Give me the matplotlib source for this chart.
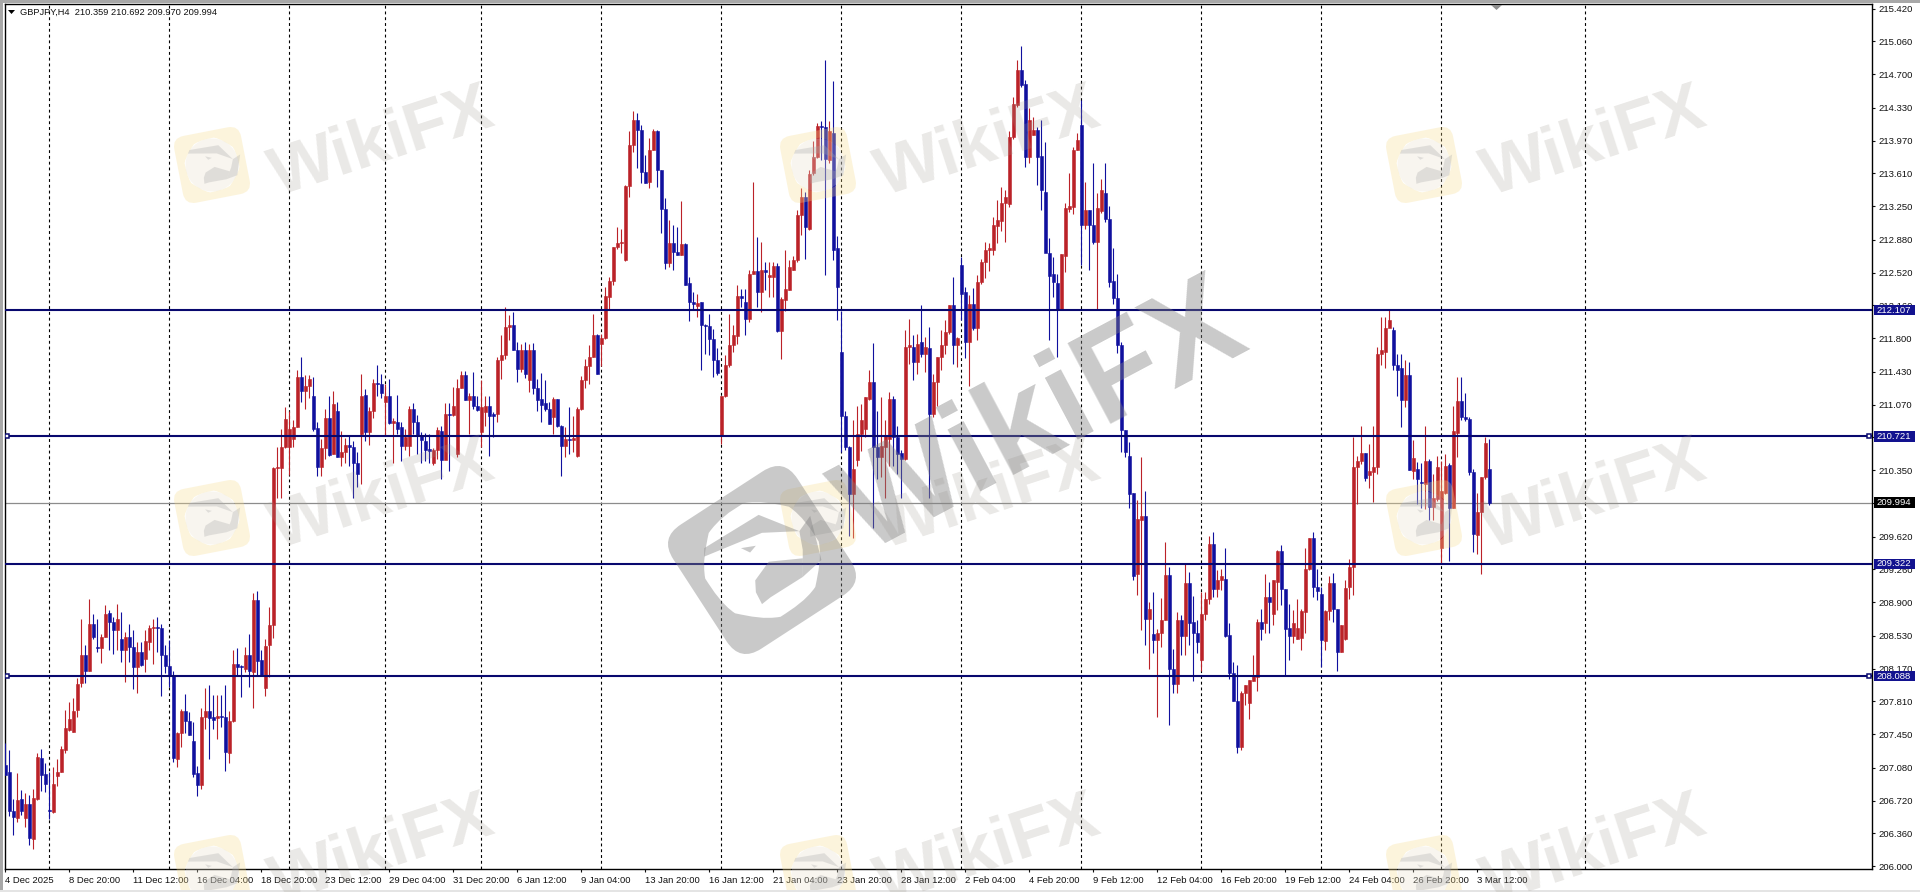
import matplotlib

matplotlib.use("Agg")
import matplotlib.pyplot as plt
import numpy as np
from matplotlib.patches import FancyBboxPatch, PathPatch, Polygon, Rectangle
from matplotlib.path import Path
from matplotlib.transforms import Affine2D

plt.rcParams["font.family"] = ["Liberation Sans", "DejaVu Sans"]

SYMBOL = "GBPJPY,H4  210.359 210.692 209.970 209.994"

opens = [
    207.11, 207.04, 206.61, 206.53, 206.74, 206.53, 206.68, 206.30, 206.74, 207.19,
    207.01, 206.62, 206.60, 206.99, 207.04, 207.28, 207.50, 207.48, 207.72, 208.01,
    208.32, 208.15, 208.66, 208.41, 208.40, 208.52, 208.78, 208.68, 208.59, 208.50,
    208.37, 208.52, 208.41, 208.19, 208.35, 208.28, 208.46, 208.62, 208.63, 208.62,
    208.32, 208.20, 208.09, 207.18, 207.46, 207.71, 207.60, 207.38, 207.02, 206.89,
    207.64, 207.71, 207.64, 207.63, 207.65, 207.64, 207.24, 207.59, 208.22, 208.20,
    208.17, 208.32, 208.13, 208.92, 208.26, 207.96, 208.43, 208.65, 210.37, 210.37,
    210.60, 210.61, 210.69, 210.82, 211.37, 211.22, 211.28, 211.17, 210.81, 210.39,
    210.59, 210.92, 210.53, 211.00, 210.49, 210.55, 210.63, 210.60, 210.43, 210.75,
    211.18, 210.77, 211.00, 211.31, 211.30, 211.10, 211.17, 210.87, 210.88, 210.82,
    210.62, 210.62, 211.02, 210.88, 210.73, 210.67, 210.58, 210.43, 210.57, 210.78,
    210.46, 210.97, 210.96, 210.53, 211.25, 211.39, 211.12, 211.16, 211.06, 210.77,
    210.99, 211.06, 210.97, 210.97, 211.56, 211.61, 211.92, 211.95, 211.67, 211.46,
    211.67, 211.34, 211.67, 211.25, 211.13, 211.09, 211.02, 210.93, 211.13, 210.84,
    210.62, 210.69, 210.68, 210.51, 211.02, 211.34, 211.49, 211.59, 211.83, 211.74,
    211.80, 212.25, 212.43, 212.80, 212.85, 212.66, 213.47, 213.92, 214.20, 214.09,
    213.63, 213.52, 213.87, 214.08, 213.65, 213.22, 212.63, 212.85, 212.75, 212.71,
    212.83, 212.41, 212.20, 212.15, 212.20, 211.95, 211.93, 211.79, 211.56, 210.72,
    211.16, 211.50, 211.72, 211.82, 212.26, 212.20, 212.01, 212.51, 212.54, 212.31,
    212.55, 212.47, 212.47, 212.59, 211.88, 212.22, 212.33, 212.55, 212.66, 213.15,
    213.35, 213.00, 213.61, 213.79, 214.13, 214.12, 213.76, 214.05, 212.79, 211.65,
    210.95, 210.60, 210.09, 210.46, 210.75, 210.80, 211.13, 211.32, 210.60, 210.49,
    210.60, 210.69, 211.13, 210.71, 210.54, 210.47, 211.70, 211.70, 211.54, 211.76,
    211.63, 211.69, 210.97, 211.32, 211.59, 211.72, 211.87, 212.16, 211.72, 212.60,
    212.31, 211.76, 212.18, 211.91, 212.42, 212.64, 212.77, 212.77, 213.03, 213.09,
    213.28, 213.27, 214.01, 214.36, 214.74, 214.59, 213.79, 214.03, 214.09, 213.80,
    213.40, 212.74, 212.50, 212.41, 212.11, 212.70, 213.22, 213.24, 213.87, 214.14,
    213.04, 213.21, 213.04, 212.86, 213.20, 213.39, 213.11, 212.43, 212.24, 211.73,
    210.79, 210.51, 210.10, 209.21, 209.80, 209.85, 208.72, 208.55, 208.49, 208.56,
    208.71, 209.20, 208.17, 208.00, 208.70, 208.53, 209.11, 208.68, 208.56, 208.26,
    208.77, 208.94, 209.54, 209.04, 209.14, 209.15, 208.54, 208.12, 207.81, 207.31,
    207.90, 207.79, 208.04, 208.08, 208.68, 208.67, 208.96, 208.77, 209.12, 209.46,
    209.05, 208.62, 208.53, 208.50, 208.51, 208.79, 209.27, 209.61, 209.07, 208.99,
    208.47, 208.80, 209.11, 208.83, 208.35, 208.50, 209.07, 209.29, 210.39, 210.45,
    210.54, 210.30, 210.33, 210.39, 211.63, 211.65, 211.91, 211.89, 211.50, 211.47,
    211.12, 211.39, 210.34, 210.36, 210.22, 210.20, 210.45, 209.95, 210.03, 209.49,
    210.10, 210.41, 209.94, 210.76, 211.11, 210.93, 210.91, 210.33, 209.64, 209.89,
    210.27, 210.36,
]
highs = [
    207.35, 207.28, 206.74, 207.02, 206.84, 206.80, 206.78, 206.85, 207.24, 207.29,
    207.13, 207.03, 207.09, 207.18, 207.32, 207.72, 207.80, 207.85, 208.07, 208.72,
    208.43, 208.94, 208.77, 208.72, 208.55, 208.87, 208.82, 208.74, 208.88, 208.79,
    208.57, 208.66, 208.60, 208.46, 208.46, 208.59, 208.65, 208.72, 208.74, 208.66,
    208.43, 208.49, 208.14, 207.47, 207.73, 207.89, 207.69, 207.58, 207.10, 207.74,
    207.96, 207.99, 207.88, 207.88, 207.88, 207.99, 207.71, 208.38, 208.40, 208.21,
    208.41, 208.55, 209.00, 209.02, 208.37, 208.50, 208.85, 210.39, 210.61, 210.80,
    211.04, 211.00, 210.90, 211.45, 211.59, 211.39, 211.40, 211.37, 210.88, 210.69,
    211.02, 211.16, 211.22, 211.10, 210.78, 210.70, 210.74, 210.67, 210.55, 211.41,
    211.24, 211.04, 211.35, 211.50, 211.41, 211.30, 211.35, 210.92, 211.18, 210.88,
    210.80, 211.06, 211.09, 210.96, 210.77, 210.76, 210.75, 210.59, 210.82, 210.84,
    211.09, 211.09, 211.26, 211.35, 211.44, 211.44, 211.20, 211.43, 211.16, 211.34,
    211.17, 211.17, 210.99, 211.59, 211.83, 212.14, 212.05, 212.09, 211.76, 211.74,
    211.76, 211.74, 211.75, 211.35, 211.42, 211.34, 211.10, 211.15, 211.13, 210.85,
    210.82, 211.04, 210.95, 211.04, 211.38, 211.57, 211.72, 212.06, 211.85, 211.85,
    212.36, 212.47, 212.80, 213.02, 213.00, 213.48, 214.07, 214.29, 214.27, 214.14,
    213.81, 214.00, 214.10, 214.09, 213.65, 213.34, 213.10, 213.04, 213.02, 213.31,
    212.84, 212.47, 212.31, 212.29, 212.20, 211.96, 212.07, 211.90, 211.69, 211.17,
    211.61, 212.07, 211.94, 212.38, 212.34, 212.34, 212.55, 213.51, 212.91, 212.86,
    212.64, 212.64, 212.64, 212.63, 212.25, 212.77, 212.66, 212.70, 213.21, 213.45,
    213.41, 213.65, 213.96, 214.16, 214.18, 214.85, 214.18, 214.62, 212.92, 212.10,
    211.00, 210.62, 210.90, 211.06, 211.08, 211.15, 211.45, 211.75, 211.00, 211.15,
    210.90, 211.21, 211.17, 210.84, 210.57, 211.89, 212.01, 211.83, 211.85, 212.16,
    211.81, 211.92, 211.41, 211.59, 211.89, 212.00, 212.16, 212.47, 211.81, 212.69,
    212.36, 212.27, 212.35, 212.49, 212.67, 212.86, 212.84, 213.13, 213.32, 213.46,
    213.43, 214.07, 214.45, 214.86, 215.01, 214.64, 214.33, 214.23, 214.12, 214.20,
    213.95, 212.90, 212.69, 212.51, 212.72, 213.28, 213.61, 213.90, 214.05, 214.42,
    213.51, 213.21, 213.72, 213.39, 213.55, 213.72, 213.25, 212.79, 212.51, 211.76,
    210.79, 210.66, 210.10, 210.02, 210.50, 210.12, 208.90, 209.01, 208.61, 208.95,
    209.56, 209.29, 208.39, 208.79, 208.76, 209.32, 209.23, 208.97, 208.70, 209.01,
    209.01, 209.63, 209.67, 209.25, 209.27, 209.49, 208.67, 208.24, 208.21, 207.93,
    207.99, 208.05, 208.32, 208.72, 208.83, 209.21, 209.12, 209.14, 209.47, 209.53,
    209.05, 208.88, 208.81, 208.94, 208.83, 209.49, 209.61, 209.67, 209.27, 209.07,
    208.81, 209.19, 209.22, 208.83, 208.65, 209.14, 209.38, 210.71, 210.51, 210.84,
    210.54, 210.64, 210.84, 211.70, 212.03, 212.03, 212.12, 211.92, 211.63, 211.63,
    211.56, 211.54, 210.68, 210.44, 210.43, 210.84, 210.47, 210.31, 210.51, 210.45,
    210.53, 210.43, 211.06, 211.37, 211.37, 211.20, 210.93, 210.36, 210.10, 210.28,
    210.71, 210.69,
]
lows = [
    207.00, 206.55, 206.34, 206.49, 206.56, 206.43, 206.23, 206.19, 206.73, 206.83,
    206.82, 206.52, 206.59, 206.88, 207.03, 207.24, 207.49, 207.47, 207.64, 207.97,
    208.01, 208.14, 208.50, 208.35, 208.23, 208.52, 208.37, 208.33, 208.37, 208.24,
    208.02, 208.24, 207.95, 207.90, 208.20, 208.13, 208.37, 208.22, 208.35, 207.87,
    208.12, 207.97, 207.14, 207.09, 207.31, 207.46, 207.44, 206.98, 206.77, 206.85,
    207.51, 207.18, 207.51, 207.40, 207.53, 207.05, 207.13, 207.58, 208.10, 207.86,
    208.13, 207.97, 207.74, 208.10, 208.10, 207.87, 208.08, 208.51, 210.04, 210.04,
    210.59, 210.30, 210.60, 210.82, 211.10, 211.02, 211.14, 210.78, 210.29, 210.29,
    210.47, 210.51, 210.53, 210.49, 210.40, 210.43, 210.40, 210.05, 210.16, 210.20,
    210.67, 210.63, 210.92, 211.16, 211.14, 210.73, 210.86, 210.43, 210.75, 210.45,
    210.57, 210.51, 210.75, 210.53, 210.43, 210.45, 210.43, 210.41, 210.47, 210.25,
    210.47, 210.34, 210.95, 210.49, 211.25, 211.12, 210.75, 211.02, 211.00, 210.60,
    210.84, 210.51, 210.71, 210.88, 211.35, 211.57, 211.78, 211.67, 211.32, 211.43,
    211.36, 211.21, 211.19, 211.00, 210.88, 211.00, 210.86, 210.75, 210.82, 210.29,
    210.49, 210.53, 210.55, 210.50, 211.01, 211.25, 211.30, 211.59, 211.41, 211.49,
    211.79, 212.11, 212.38, 212.78, 212.73, 212.65, 213.35, 213.85, 213.67, 213.50,
    213.50, 213.45, 213.87, 213.46, 212.95, 212.56, 212.58, 212.55, 212.71, 212.71,
    212.38, 211.99, 212.11, 212.03, 211.45, 211.63, 211.61, 211.37, 211.40, 210.64,
    211.15, 211.48, 211.65, 211.74, 212.14, 211.83, 211.98, 212.51, 212.14, 212.09,
    212.33, 212.25, 212.25, 211.87, 211.57, 212.10, 212.33, 212.55, 212.64, 212.93,
    212.67, 212.99, 213.59, 213.78, 213.76, 212.49, 213.72, 212.66, 212.00, 210.55,
    210.57, 209.63, 209.61, 210.40, 210.56, 210.71, 211.12, 209.72, 210.25, 210.27,
    210.05, 210.40, 210.40, 210.31, 210.05, 210.46, 211.52, 211.34, 211.41, 211.59,
    211.43, 210.05, 210.93, 211.06, 211.45, 211.63, 211.85, 211.52, 211.48, 212.00,
    211.58, 211.28, 211.89, 211.78, 212.40, 212.46, 212.54, 212.71, 212.84, 212.98,
    212.86, 213.24, 213.99, 214.34, 214.56, 213.68, 213.72, 214.03, 213.48, 213.21,
    212.75, 211.78, 212.25, 211.59, 212.11, 212.53, 213.19, 213.16, 213.87, 212.60,
    213.00, 212.55, 212.83, 212.11, 213.17, 213.08, 212.36, 212.18, 211.64, 210.55,
    210.49, 209.94, 209.14, 208.98, 208.59, 208.43, 208.17, 208.34, 207.64, 208.41,
    208.70, 207.55, 207.90, 207.90, 208.32, 208.32, 208.43, 208.04, 208.34, 208.14,
    208.70, 208.88, 208.96, 208.96, 209.03, 208.52, 208.06, 207.81, 207.24, 207.28,
    207.77, 207.62, 208.03, 207.93, 208.48, 208.56, 208.56, 208.65, 208.81, 208.87,
    208.10, 208.26, 208.45, 208.50, 208.37, 208.56, 209.25, 208.96, 208.92, 208.19,
    208.37, 208.70, 208.68, 208.14, 208.35, 208.48, 208.94, 208.98, 209.98, 210.42,
    210.23, 210.15, 210.00, 210.31, 211.50, 211.47, 211.92, 211.45, 211.17, 210.82,
    211.04, 210.35, 210.25, 209.98, 209.94, 209.92, 209.80, 209.80, 210.01, 209.33,
    210.09, 209.35, 209.94, 210.50, 210.90, 210.89, 210.30, 209.45, 209.43, 209.21,
    210.25, 209.97,
]
closes = [
    207.00, 206.61, 206.54, 206.73, 206.61, 206.68, 206.31, 206.75, 207.20, 207.00,
    206.90, 206.61, 206.90, 207.04, 207.29, 207.52, 207.62, 207.71, 208.00, 208.32,
    208.15, 208.66, 208.52, 208.40, 208.52, 208.77, 208.68, 208.59, 208.72, 208.37,
    208.52, 208.41, 208.19, 208.35, 208.21, 208.47, 208.62, 208.63, 208.62, 208.32,
    208.20, 208.09, 207.19, 207.46, 207.71, 207.60, 207.44, 207.01, 206.89, 207.64,
    207.71, 207.63, 207.61, 207.65, 207.64, 207.25, 207.60, 208.22, 208.19, 208.19,
    208.32, 208.14, 208.92, 208.25, 208.10, 208.42, 208.65, 210.37, 210.39, 210.60,
    210.91, 210.80, 210.82, 211.37, 211.22, 211.28, 211.35, 210.80, 210.39, 210.59,
    210.92, 210.52, 211.08, 210.50, 210.55, 210.63, 210.60, 210.43, 210.31, 211.17,
    210.77, 211.00, 211.31, 211.30, 211.20, 211.17, 210.87, 210.89, 210.80, 210.62,
    210.71, 211.02, 210.88, 210.72, 210.68, 210.57, 210.56, 210.57, 210.79, 210.46,
    210.97, 210.96, 211.05, 211.25, 211.39, 211.12, 211.17, 211.05, 211.01, 211.04,
    211.06, 210.95, 210.95, 211.56, 211.61, 211.92, 211.95, 211.67, 211.46, 211.67,
    211.41, 211.67, 211.25, 211.12, 211.07, 211.02, 210.86, 211.13, 210.83, 210.62,
    210.69, 210.68, 210.70, 211.02, 211.34, 211.49, 211.59, 211.83, 211.41, 211.80,
    212.26, 212.43, 212.80, 212.85, 212.86, 213.47, 213.92, 214.20, 214.09, 213.63,
    213.50, 213.87, 214.08, 213.65, 213.22, 212.63, 212.85, 212.75, 212.71, 212.83,
    212.38, 212.20, 212.18, 212.19, 211.95, 211.93, 211.79, 211.56, 211.42, 211.17,
    211.51, 211.72, 211.83, 212.26, 212.24, 212.01, 212.51, 212.54, 212.31, 212.55,
    212.53, 212.49, 212.59, 211.88, 212.23, 212.34, 212.58, 212.66, 213.15, 213.35,
    213.02, 213.60, 213.79, 214.13, 214.12, 213.77, 214.07, 212.77, 212.36, 210.95,
    210.60, 210.09, 210.36, 210.75, 210.90, 211.15, 211.32, 210.60, 210.49, 210.62,
    210.73, 211.13, 210.71, 210.53, 210.47, 211.70, 211.72, 211.54, 211.74, 211.63,
    211.70, 210.97, 211.32, 211.59, 211.72, 211.87, 212.16, 211.72, 211.80, 212.29,
    211.76, 212.18, 211.91, 212.42, 212.64, 212.77, 212.79, 213.04, 213.10, 213.28,
    213.35, 214.01, 214.37, 214.74, 214.58, 213.79, 214.20, 214.09, 213.79, 213.43,
    212.74, 212.48, 212.42, 212.11, 212.72, 213.23, 213.25, 213.87, 213.98, 213.04,
    213.21, 213.04, 212.86, 213.23, 213.43, 213.11, 212.42, 212.24, 211.72, 210.79,
    210.55, 210.09, 209.19, 209.81, 209.85, 208.72, 208.83, 208.49, 208.56, 208.71,
    209.20, 208.17, 208.00, 208.70, 208.53, 209.11, 208.67, 208.56, 208.46, 208.77,
    208.94, 209.54, 209.04, 209.14, 209.19, 208.53, 208.12, 207.81, 207.31, 207.90,
    207.99, 208.05, 208.09, 208.68, 208.61, 208.96, 208.90, 209.14, 209.46, 209.05,
    208.61, 208.53, 208.67, 208.62, 208.80, 209.27, 209.61, 209.07, 209.02, 208.48,
    208.80, 209.11, 208.83, 208.35, 208.65, 209.06, 209.29, 210.39, 210.45, 210.54,
    210.26, 210.34, 210.39, 211.63, 211.67, 211.91, 212.00, 211.50, 211.45, 211.12,
    211.39, 210.35, 210.48, 210.25, 210.21, 210.45, 209.95, 210.05, 210.38, 210.12,
    210.40, 209.94, 210.78, 211.11, 210.93, 210.91, 210.33, 209.65, 209.89, 210.27,
    210.65, 209.99,
]

price_ticks = [
    215.42, 215.06, 214.70, 214.33, 213.97, 213.61, 213.25, 212.88, 212.52,
    212.16, 211.80, 211.43, 211.07, 210.71, 210.35, 209.99, 209.62, 209.26,
    208.90, 208.53, 208.17, 207.81, 207.45, 207.08, 206.72, 206.36, 206.00,
]
date_labels = [
    "4 Dec 2025", "8 Dec 20:00", "11 Dec 12:00", "16 Dec 04:00", "18 Dec 20:00",
    "23 Dec 12:00", "29 Dec 04:00", "31 Dec 20:00", "6 Jan 12:00", "9 Jan 04:00",
    "13 Jan 20:00", "16 Jan 12:00", "21 Jan 04:00", "23 Jan 20:00", "28 Jan 12:00",
    "2 Feb 04:00", "4 Feb 20:00", "9 Feb 12:00", "12 Feb 04:00", "16 Feb 20:00",
    "19 Feb 12:00", "24 Feb 04:00", "26 Feb 20:00", "3 Mar 12:00",
]
separator_bars = [11, 41, 71, 95, 119, 149, 179, 209, 239, 269, 299, 329, 359, 395]
levels = [212.107, 210.721, 209.322, 208.088]
handle_levels = [210.721, 208.088]
bid = 209.994

NAVY = "#08086e"
BLUE = "#10109e"
RED = "#bb2228"

# logo pieces, traced from the big centre watermark
EAGLE_PARTS = [
    [(310, 395), (470, 297), (590, 345), (480, 350), (310, 420)],
    [(590, 345), (622, 300), (655, 430), (600, 480), (600, 400)],
    [(460, 490), (500, 435), (600, 425), (600, 480), (505, 540), (480, 560), (462, 525)],
    [(418, 395), (462, 388), (445, 408)],
]


def draw_logo(ax, cx, cy, side, angle, color, alpha, part_color, disc=None):
    rot = Affine2D().rotate_deg(-angle).translate(cx, cy)
    half = side / 2
    radius = side * 0.39
    box = FancyBboxPatch(
        (-half + side * 0.15, -half + side * 0.15),
        side * 0.7,
        side * 0.7,
        boxstyle=f"round,pad={side * 0.15},rounding_size={side * 0.17}",
    )
    outer = box.get_path().transformed(box.get_transform())
    hole = Path.circle((0, 0), radius)
    hole = Path(hole.vertices[::-1], hole.codes)
    square = Path.make_compound_path(outer, hole)
    ax.add_patch(PathPatch(square, fc=color, ec="none", alpha=alpha, transform=rot + ax.transData))
    if disc:
        ax.add_patch(PathPatch(Path.circle((0, 0), radius), fc=disc, ec="none", alpha=alpha, transform=rot + ax.transData))
    # parts are stored at the big logo's own tilt, so turn them back first
    part_rot = Affine2D().rotate_deg(33 - angle).scale(radius / 170).translate(cx, cy)
    for part in EAGLE_PARTS:
        pts = [(x - 480, y - 430) for x, y in part]
        ax.add_patch(Polygon(pts, fc=part_color, ec="none", alpha=alpha, transform=part_rot + ax.transData))


def draw_candles(ax):
    x = np.arange(len(opens))
    o = np.array(opens)
    c = np.array(closes)
    colors = [RED if up else BLUE for up in c >= o]
    ax.vlines(x, lows, highs, colors=colors, linewidth=0.8, zorder=3)
    bottoms = np.minimum(o, c)
    ax.bar(x, np.abs(c - o), bottom=bottoms, width=0.7, color=colors, edgecolor=colors, linewidth=0.4, zorder=3)


def price_box(ax, level, color):
    # 41 x 10.5 px box right of the price axis
    trans = ax.get_yaxis_transform()
    ax.add_patch(Rectangle((1.0012, level - 0.058), 0.022, 0.116, transform=trans, fc=color, ec="none",
                           clip_on=False, zorder=5.5))
    ax.text(1.0023, level, f"{level:.3f}", transform=trans, color="white", fontsize=6.8,
            ha="left", va="center", zorder=6, clip_on=False)


def draw_levels(ax):
    trans = ax.get_yaxis_transform()
    for level in levels:
        ax.axhline(level, color=NAVY, linewidth=1.5, zorder=4)
        price_box(ax, level, "#12128f")
    ax.axhline(bid, color="#8c8c8c", linewidth=0.9, zorder=2)
    price_box(ax, bid, "black")
    for level in handle_levels:
        ax.plot([0.0015, 0.9985], [level, level], transform=trans, linestyle="none", marker="s",
                markersize=3.4, markerfacecolor="white", markeredgecolor=NAVY, markeredgewidth=1.1, zorder=5)


def draw_watermarks(fig):
    over = fig.add_axes([0, 0, 1, 1], zorder=10)
    over.set_xlim(0, 1920)
    over.set_ylim(892, 0)
    over.axis("off")
    over.patch.set_alpha(0)
    for cy in [165, 518, 873]:
        for cx in [212, 818, 1424]:
            draw_logo(over, cx, cy, 68, 11, "#f7dc8c", 0.3, "#a8a8a8", disc="#e8e0cc")
            over.text(cx + 170, cy - 22, "WikiFX", fontsize=50, fontweight="bold", color="#a09a90",
                      alpha=0.22, rotation=18, ha="center", va="center", rotation_mode="anchor")
    draw_logo(over, 762, 560, 148, 33, "#808080", 0.42, "#808080")
    over.text(1042, 420, "WikiFX", fontsize=95, fontweight="bold", color="#808080", alpha=0.42,
              rotation=28, ha="center", va="center", rotation_mode="anchor")

    # window frame and chart-shift mark
    over.add_patch(Rectangle((0, 0), 1920, 2.5, fc="#a8a8a8", ec="none"))
    over.add_patch(Rectangle((0, 0), 2.5, 892, fc="#a8a8a8", ec="none"))
    over.add_patch(Rectangle((0, 889.5), 1920, 2.5, fc="#e4e4e4", ec="none"))
    over.add_patch(Polygon([(1491, 5), (1502, 5), (1496.5, 10)], fc="#8e8e8e", ec="none"))
    over.add_patch(Polygon([(8, 10), (15, 10), (11.5, 14)], fc="black", ec="none"))


def main():
    fig = plt.figure(figsize=(19.2, 8.92), dpi=100, facecolor="white")
    ax = fig.add_axes([4.5 / 1920, 1 - 869 / 892, (1872 - 4.5) / 1920, 865 / 892])
    ax.set_xlim(-0.2, 466.7)
    ax.set_ylim(205.97, 215.47)

    for bar in separator_bars:
        ax.axvline(bar, color="black", linewidth=0.8, linestyle=(0, (2.6, 2.6)), zorder=1)

    draw_candles(ax)
    draw_levels(ax)

    ax.yaxis.tick_right()
    ax.set_yticks(price_ticks, [f"{p:.3f}" for p in price_ticks])
    ax.set_xticks(np.arange(len(date_labels)) * 16, date_labels, ha="left")
    ax.tick_params(axis="y", length=2.2, width=0.8, pad=2.2, labelsize=6.8, colors="#111111")
    ax.tick_params(axis="x", length=2.2, width=0.8, pad=2.8, labelsize=6.8, colors="#111111")
    for spine in ax.spines.values():
        spine.set_linewidth(1.0)

    ax.text(20 / 1920 - 4.5 / 1920, 1 - 8.5 / 865, SYMBOL, transform=ax.transAxes, fontsize=6.65,
            color="#111111", ha="left", va="center", zorder=7)

    draw_watermarks(fig)
    fig.savefig("out.png", dpi=100, facecolor="white")


if __name__ == "__main__":
    main()
